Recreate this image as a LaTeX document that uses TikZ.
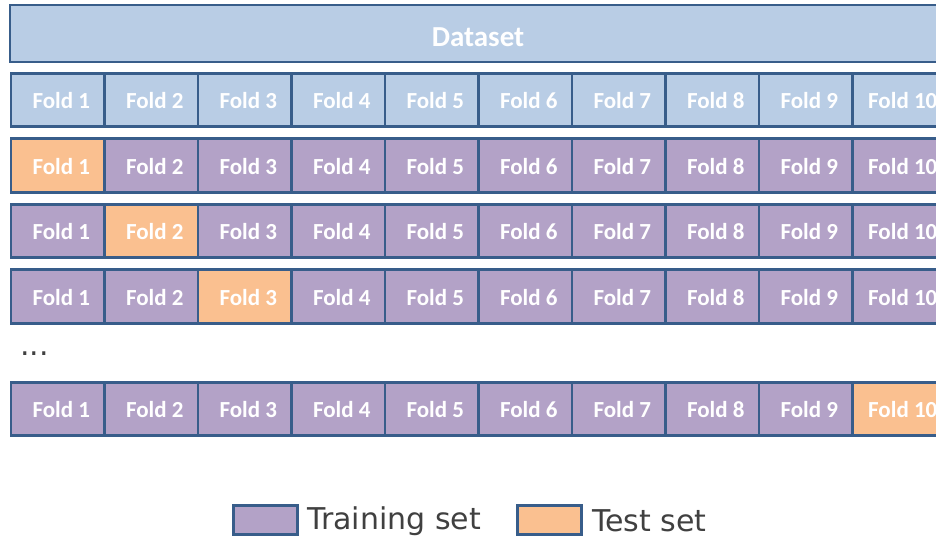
\documentclass[tikz,border=0pt]{standalone}
\usepackage{fontspec}
\setmainfont{Carlito}
\newfontfamily\legfont{DejaVu Sans}
\definecolor{dsblue}{HTML}{B9CDE5}
\definecolor{trpurple}{HTML}{B3A2C7}
\definecolor{tsorange}{HTML}{FAC090}
\definecolor{edgeblue}{HTML}{385D8A}
\definecolor{legtext}{HTML}{404040}
\newcommand{\celltext}[1]{\hspace*{7pt}\raisebox{-8.9pt}[0pt][0pt]{#1}}
\begin{document}
\begin{tikzpicture}[x=1pt,y=-1pt,
  cell/.style={draw=edgeblue,line width=2.6pt,minimum width=93.5pt,minimum height=53.5pt,
    inner sep=0pt,text=white,font=\fontsize{23}{23}\selectfont\bfseries,outer sep=0pt},
  full/.style={cell,fill=dsblue},
  train/.style={cell,fill=trpurple},
  test/.style={cell,fill=tsorange},
  legbox/.style={draw=edgeblue,line width=2.4pt,minimum width=64pt,minimum height=29pt,inner sep=0pt},
  legtxt/.style={anchor=west,inner sep=0pt,text=legtext,font=\legfont\fontsize{30}{30}\selectfont}]
\useasboundingbox (0,0) rectangle (936,538);
\node[cell,fill=dsblue,minimum width=936pt,minimum height=57pt,font=\fontsize{29}{29}\selectfont\bfseries] (ds) at (478,33.5) {\raisebox{-12.8pt}[0pt][0pt]{Dataset}};
\foreach \i in {1,...,10}{
  \node[full] (a\i) at ({11+93.5*(\i-0.5)},100) {\celltext{Fold \i}};
}
\foreach \r/\y/\t in {b/165.5/1,c/231/2,d/296.5/3,e/409/10}{
  \foreach \i in {1,...,10}{
    \ifnum\i=\t
      \node[test] (\r\i) at ({11+93.5*(\i-0.5)},\y) {\celltext{Fold \i}};
    \else
      \node[train] (\r\i) at ({11+93.5*(\i-0.5)},\y) {\celltext{Fold \i}};
    \fi
  }
}
\node[text=legtext,font=\legfont\fontsize{30}{30}\selectfont,anchor=west,inner sep=0pt] (dots) at (20,354) {...};
\node[legbox,fill=trpurple] (lt) at (265.5,520) {};
\node[legtxt] (ltt) at (307,521) {Training set};
\node[legbox,fill=tsorange] (ls) at (549.5,520) {};
\node[legtxt] (lst) at (592,521) {Test set};
\end{tikzpicture}
\end{document}
